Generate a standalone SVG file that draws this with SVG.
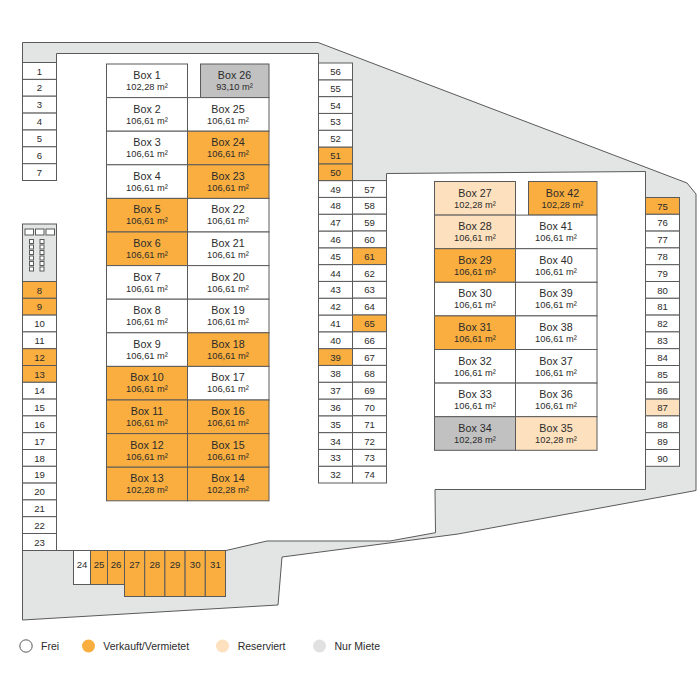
<svg xmlns="http://www.w3.org/2000/svg" width="700" height="700" viewBox="0 0 700 700">
<style>
text{font-family:"Liberation Sans",Arial,sans-serif;fill:#2b2b2b;text-anchor:middle}
.n{font-size:9.6px}
.t{font-size:10.7px}
.a{font-size:9.3px}
.l{font-size:10.5px;text-anchor:start}
rect{stroke:#5a5a5a;stroke-width:1}
.w{fill:#fff}.o{fill:#f9ae3f}.p{fill:#fde0bd}.g{fill:#c1c1c1}
</style>
<g id="site"><path d="M22.5 62.5V42.5H318L687 183L696 194V490.5L458 534L282 557L278 605L22.5 620V550.5H226L267 541H390L435.5 532.7L435 489.5H645.5V171.5L386.5 173.5V181H318.5V53.5H56.5V62.5Z" fill="#e3e4e4" stroke="#5a5a5a" stroke-width="1"/></g>
<g id="technik"><rect x="22.5" y="224" width="34" height="57.5" fill="#e3e4e4"/>
<g fill="#fff"><rect x="25" y="229" width="8.5" height="6"/><rect x="35.5" y="229" width="8.5" height="6"/><rect x="46" y="229" width="8.5" height="6"/>
<rect x="29.5" y="239.5" width="4" height="4"/><rect x="29.5" y="245" width="4" height="4"/><rect x="29.5" y="250.5" width="4" height="4"/><rect x="29.5" y="256" width="4" height="4"/><rect x="29.5" y="261.5" width="4" height="4"/><rect x="29.5" y="267" width="4" height="4"/>
<rect x="40" y="239.5" width="4" height="4"/><rect x="40" y="245" width="4" height="4"/><rect x="40" y="250.5" width="4" height="4"/><rect x="40" y="256" width="4" height="4"/><rect x="40" y="261.5" width="4" height="4"/><rect x="40" y="267" width="4" height="4"/></g></g>
<g id="parking-left">
<g id="p1"><rect class="w" x="22.5" y="62.5" width="34" height="16.9"/><text class="n" x="39.5" y="74.5">1</text></g>
<g id="p2"><rect class="w" x="22.5" y="79.4" width="34" height="16.8"/><text class="n" x="39.5" y="91.4">2</text></g>
<g id="p3"><rect class="w" x="22.5" y="96.2" width="34" height="16.9"/><text class="n" x="39.5" y="108.2">3</text></g>
<g id="p4"><rect class="w" x="22.5" y="113.1" width="34" height="16.9"/><text class="n" x="39.5" y="125.1">4</text></g>
<g id="p5"><rect class="w" x="22.5" y="130" width="34" height="16.8"/><text class="n" x="39.5" y="142">5</text></g>
<g id="p6"><rect class="w" x="22.5" y="146.8" width="34" height="16.9"/><text class="n" x="39.5" y="158.8">6</text></g>
<g id="p7"><rect class="w" x="22.5" y="163.7" width="34" height="16.8"/><text class="n" x="39.5" y="175.7">7</text></g>
<g id="p8"><rect class="o" x="22.5" y="281.5" width="34" height="16.8"/><text class="n" x="39.5" y="293.5">8</text></g>
<g id="p9"><rect class="o" x="22.5" y="298.3" width="34" height="16.8"/><text class="n" x="39.5" y="310.3">9</text></g>
<g id="p10"><rect class="w" x="22.5" y="315.1" width="34" height="16.8"/><text class="n" x="39.5" y="327.1">10</text></g>
<g id="p11"><rect class="w" x="22.5" y="331.9" width="34" height="16.8"/><text class="n" x="39.5" y="343.9">11</text></g>
<g id="p12"><rect class="o" x="22.5" y="348.7" width="34" height="16.8"/><text class="n" x="39.5" y="360.7">12</text></g>
<g id="p13"><rect class="o" x="22.5" y="365.5" width="34" height="16.8"/><text class="n" x="39.5" y="377.5">13</text></g>
<g id="p14"><rect class="w" x="22.5" y="382.3" width="34" height="16.8"/><text class="n" x="39.5" y="394.3">14</text></g>
<g id="p15"><rect class="w" x="22.5" y="399.1" width="34" height="16.8"/><text class="n" x="39.5" y="411.1">15</text></g>
<g id="p16"><rect class="w" x="22.5" y="415.9" width="34" height="16.8"/><text class="n" x="39.5" y="427.9">16</text></g>
<g id="p17"><rect class="w" x="22.5" y="432.7" width="34" height="16.8"/><text class="n" x="39.5" y="444.7">17</text></g>
<g id="p18"><rect class="w" x="22.5" y="449.5" width="34" height="16.8"/><text class="n" x="39.5" y="461.5">18</text></g>
<g id="p19"><rect class="w" x="22.5" y="466.3" width="34" height="16.8"/><text class="n" x="39.5" y="478.3">19</text></g>
<g id="p20"><rect class="w" x="22.5" y="483.1" width="34" height="16.8"/><text class="n" x="39.5" y="495.1">20</text></g>
<g id="p21"><rect class="w" x="22.5" y="499.9" width="34" height="16.8"/><text class="n" x="39.5" y="511.9">21</text></g>
<g id="p22"><rect class="w" x="22.5" y="516.7" width="34" height="16.8"/><text class="n" x="39.5" y="528.7">22</text></g>
<g id="p23"><rect class="w" x="22.5" y="533.5" width="34" height="17"/><text class="n" x="39.5" y="545.5">23</text></g>
</g>
<g id="parking-bottom">
<g id="p24"><rect class="w" x="73.5" y="550.5" width="17" height="34"/><text class="n" x="82" y="567.5">24</text></g>
<g id="p25"><rect class="o" x="90.5" y="550.5" width="17" height="34"/><text class="n" x="99" y="567.5">25</text></g>
<g id="p26"><rect class="o" x="107.5" y="550.5" width="17" height="34"/><text class="n" x="116" y="567.5">26</text></g>
<g id="p27"><rect class="o" x="124.5" y="550.5" width="20.2" height="46"/><text class="n" x="134.6" y="567.5">27</text></g>
<g id="p28"><rect class="o" x="144.7" y="550.5" width="20.2" height="46"/><text class="n" x="154.8" y="567.5">28</text></g>
<g id="p29"><rect class="o" x="164.9" y="550.5" width="20.2" height="46"/><text class="n" x="175" y="567.5">29</text></g>
<g id="p30"><rect class="o" x="185.1" y="550.5" width="20.2" height="46"/><text class="n" x="195.2" y="567.5">30</text></g>
<g id="p31"><rect class="o" x="205.3" y="550.5" width="20.2" height="46"/><text class="n" x="215.4" y="567.5">31</text></g>
</g>
<g id="parking-middle">
<g id="p32"><rect class="w" x="318.5" y="466.2" width="34" height="16.8"/><text class="n" x="335.5" y="478.2">32</text></g>
<g id="p33"><rect class="w" x="318.5" y="449.4" width="34" height="16.8"/><text class="n" x="335.5" y="461.4">33</text></g>
<g id="p34"><rect class="w" x="318.5" y="432.6" width="34" height="16.8"/><text class="n" x="335.5" y="444.6">34</text></g>
<g id="p35"><rect class="w" x="318.5" y="415.8" width="34" height="16.8"/><text class="n" x="335.5" y="427.8">35</text></g>
<g id="p36"><rect class="w" x="318.5" y="399" width="34" height="16.8"/><text class="n" x="335.5" y="411">36</text></g>
<g id="p37"><rect class="w" x="318.5" y="382.2" width="34" height="16.8"/><text class="n" x="335.5" y="394.2">37</text></g>
<g id="p38"><rect class="w" x="318.5" y="365.4" width="34" height="16.8"/><text class="n" x="335.5" y="377.4">38</text></g>
<g id="p39"><rect class="o" x="318.5" y="348.6" width="34" height="16.8"/><text class="n" x="335.5" y="360.6">39</text></g>
<g id="p40"><rect class="w" x="318.5" y="331.8" width="34" height="16.8"/><text class="n" x="335.5" y="343.8">40</text></g>
<g id="p41"><rect class="w" x="318.5" y="315" width="34" height="16.8"/><text class="n" x="335.5" y="327">41</text></g>
<g id="p42"><rect class="w" x="318.5" y="298.2" width="34" height="16.8"/><text class="n" x="335.5" y="310.2">42</text></g>
<g id="p43"><rect class="w" x="318.5" y="281.4" width="34" height="16.8"/><text class="n" x="335.5" y="293.4">43</text></g>
<g id="p44"><rect class="w" x="318.5" y="264.6" width="34" height="16.8"/><text class="n" x="335.5" y="276.6">44</text></g>
<g id="p45"><rect class="w" x="318.5" y="247.8" width="34" height="16.8"/><text class="n" x="335.5" y="259.8">45</text></g>
<g id="p46"><rect class="w" x="318.5" y="231" width="34" height="16.8"/><text class="n" x="335.5" y="243">46</text></g>
<g id="p47"><rect class="w" x="318.5" y="214.2" width="34" height="16.8"/><text class="n" x="335.5" y="226.2">47</text></g>
<g id="p48"><rect class="w" x="318.5" y="197.4" width="34" height="16.8"/><text class="n" x="335.5" y="209.4">48</text></g>
<g id="p49"><rect class="w" x="318.5" y="180.6" width="34" height="16.8"/><text class="n" x="335.5" y="192.6">49</text></g>
<g id="p50"><rect class="o" x="318.5" y="163.8" width="34" height="16.8"/><text class="n" x="335.5" y="175.8">50</text></g>
<g id="p51"><rect class="o" x="318.5" y="147" width="34" height="16.8"/><text class="n" x="335.5" y="159">51</text></g>
<g id="p52"><rect class="w" x="318.5" y="130.2" width="34" height="16.8"/><text class="n" x="335.5" y="142.2">52</text></g>
<g id="p53"><rect class="w" x="318.5" y="113.4" width="34" height="16.8"/><text class="n" x="335.5" y="125.4">53</text></g>
<g id="p54"><rect class="w" x="318.5" y="96.6" width="34" height="16.8"/><text class="n" x="335.5" y="108.6">54</text></g>
<g id="p55"><rect class="w" x="318.5" y="79.8" width="34" height="16.8"/><text class="n" x="335.5" y="91.8">55</text></g>
<g id="p56"><rect class="w" x="318.5" y="63" width="34" height="16.8"/><text class="n" x="335.5" y="75">56</text></g>
<g id="p57"><rect class="w" x="352.5" y="180.6" width="34" height="16.8"/><text class="n" x="369.5" y="192.6">57</text></g>
<g id="p58"><rect class="w" x="352.5" y="197.4" width="34" height="16.8"/><text class="n" x="369.5" y="209.4">58</text></g>
<g id="p59"><rect class="w" x="352.5" y="214.2" width="34" height="16.8"/><text class="n" x="369.5" y="226.2">59</text></g>
<g id="p60"><rect class="w" x="352.5" y="231" width="34" height="16.8"/><text class="n" x="369.5" y="243">60</text></g>
<g id="p61"><rect class="o" x="352.5" y="247.8" width="34" height="16.8"/><text class="n" x="369.5" y="259.8">61</text></g>
<g id="p62"><rect class="w" x="352.5" y="264.6" width="34" height="16.8"/><text class="n" x="369.5" y="276.6">62</text></g>
<g id="p63"><rect class="w" x="352.5" y="281.4" width="34" height="16.8"/><text class="n" x="369.5" y="293.4">63</text></g>
<g id="p64"><rect class="w" x="352.5" y="298.2" width="34" height="16.8"/><text class="n" x="369.5" y="310.2">64</text></g>
<g id="p65"><rect class="o" x="352.5" y="315" width="34" height="16.8"/><text class="n" x="369.5" y="327">65</text></g>
<g id="p66"><rect class="w" x="352.5" y="331.8" width="34" height="16.8"/><text class="n" x="369.5" y="343.8">66</text></g>
<g id="p67"><rect class="w" x="352.5" y="348.6" width="34" height="16.8"/><text class="n" x="369.5" y="360.6">67</text></g>
<g id="p68"><rect class="w" x="352.5" y="365.4" width="34" height="16.8"/><text class="n" x="369.5" y="377.4">68</text></g>
<g id="p69"><rect class="w" x="352.5" y="382.2" width="34" height="16.8"/><text class="n" x="369.5" y="394.2">69</text></g>
<g id="p70"><rect class="w" x="352.5" y="399" width="34" height="16.8"/><text class="n" x="369.5" y="411">70</text></g>
<g id="p71"><rect class="w" x="352.5" y="415.8" width="34" height="16.8"/><text class="n" x="369.5" y="427.8">71</text></g>
<g id="p72"><rect class="w" x="352.5" y="432.6" width="34" height="16.8"/><text class="n" x="369.5" y="444.6">72</text></g>
<g id="p73"><rect class="w" x="352.5" y="449.4" width="34" height="16.8"/><text class="n" x="369.5" y="461.4">73</text></g>
<g id="p74"><rect class="w" x="352.5" y="466.2" width="34" height="16.8"/><text class="n" x="369.5" y="478.2">74</text></g>
</g>
<g id="parking-right">
<g id="p75"><rect class="o" x="645.5" y="197.5" width="34" height="16.8"/><text class="n" x="662.5" y="209.5">75</text></g>
<g id="p76"><rect class="w" x="645.5" y="214.3" width="34" height="16.8"/><text class="n" x="662.5" y="226.3">76</text></g>
<g id="p77"><rect class="w" x="645.5" y="231.1" width="34" height="16.8"/><text class="n" x="662.5" y="243.1">77</text></g>
<g id="p78"><rect class="w" x="645.5" y="247.9" width="34" height="16.8"/><text class="n" x="662.5" y="259.9">78</text></g>
<g id="p79"><rect class="w" x="645.5" y="264.7" width="34" height="16.8"/><text class="n" x="662.5" y="276.7">79</text></g>
<g id="p80"><rect class="w" x="645.5" y="281.5" width="34" height="16.8"/><text class="n" x="662.5" y="293.5">80</text></g>
<g id="p81"><rect class="w" x="645.5" y="298.3" width="34" height="16.8"/><text class="n" x="662.5" y="310.3">81</text></g>
<g id="p82"><rect class="w" x="645.5" y="315.1" width="34" height="16.8"/><text class="n" x="662.5" y="327.1">82</text></g>
<g id="p83"><rect class="w" x="645.5" y="331.9" width="34" height="16.8"/><text class="n" x="662.5" y="343.9">83</text></g>
<g id="p84"><rect class="w" x="645.5" y="348.7" width="34" height="16.8"/><text class="n" x="662.5" y="360.7">84</text></g>
<g id="p85"><rect class="w" x="645.5" y="365.5" width="34" height="16.8"/><text class="n" x="662.5" y="377.5">85</text></g>
<g id="p86"><rect class="w" x="645.5" y="382.3" width="34" height="16.8"/><text class="n" x="662.5" y="394.3">86</text></g>
<g id="p87"><rect class="p" x="645.5" y="399.1" width="34" height="16.8"/><text class="n" x="662.5" y="411.1">87</text></g>
<g id="p88"><rect class="w" x="645.5" y="415.9" width="34" height="16.8"/><text class="n" x="662.5" y="427.9">88</text></g>
<g id="p89"><rect class="w" x="645.5" y="432.7" width="34" height="16.8"/><text class="n" x="662.5" y="444.7">89</text></g>
<g id="p90"><rect class="w" x="645.5" y="449.5" width="34" height="16.8"/><text class="n" x="662.5" y="461.5">90</text></g>
</g>
<g id="boxes-left">
<g id="box1"><rect class="w" x="106.5" y="64" width="81" height="33.6"/><text class="t" x="147" y="79">Box 1</text><text class="a" x="147" y="90">102,28 m²</text></g>
<g id="box2"><rect class="w" x="106.5" y="97.6" width="81" height="33.6"/><text class="t" x="147" y="112.6">Box 2</text><text class="a" x="147" y="123.6">106,61 m²</text></g>
<g id="box3"><rect class="w" x="106.5" y="131.2" width="81" height="33.6"/><text class="t" x="147" y="146.2">Box 3</text><text class="a" x="147" y="157.2">106,61 m²</text></g>
<g id="box4"><rect class="w" x="106.5" y="164.8" width="81" height="33.6"/><text class="t" x="147" y="179.8">Box 4</text><text class="a" x="147" y="190.8">106,61 m²</text></g>
<g id="box5"><rect class="o" x="106.5" y="198.4" width="81" height="33.6"/><text class="t" x="147" y="213.4">Box 5</text><text class="a" x="147" y="224.4">106,61 m²</text></g>
<g id="box6"><rect class="o" x="106.5" y="232" width="81" height="33.6"/><text class="t" x="147" y="247">Box 6</text><text class="a" x="147" y="258">106,61 m²</text></g>
<g id="box7"><rect class="w" x="106.5" y="265.6" width="81" height="33.6"/><text class="t" x="147" y="280.6">Box 7</text><text class="a" x="147" y="291.6">106,61 m²</text></g>
<g id="box8"><rect class="w" x="106.5" y="299.2" width="81" height="33.6"/><text class="t" x="147" y="314.2">Box 8</text><text class="a" x="147" y="325.2">106,61 m²</text></g>
<g id="box9"><rect class="w" x="106.5" y="332.8" width="81" height="33.6"/><text class="t" x="147" y="347.8">Box 9</text><text class="a" x="147" y="358.8">106,61 m²</text></g>
<g id="box10"><rect class="o" x="106.5" y="366.4" width="81" height="33.6"/><text class="t" x="147" y="381.4">Box 10</text><text class="a" x="147" y="392.4">106,61 m²</text></g>
<g id="box11"><rect class="o" x="106.5" y="400" width="81" height="33.6"/><text class="t" x="147" y="415">Box 11</text><text class="a" x="147" y="426">106,61 m²</text></g>
<g id="box12"><rect class="o" x="106.5" y="433.6" width="81" height="33.6"/><text class="t" x="147" y="448.6">Box 12</text><text class="a" x="147" y="459.6">106,61 m²</text></g>
<g id="box13"><rect class="o" x="106.5" y="467.2" width="81" height="33.6"/><text class="t" x="147" y="482.2">Box 13</text><text class="a" x="147" y="493.2">102,28 m²</text></g>
<g id="box26"><rect class="g" x="200.5" y="64" width="68.5" height="33.6"/><text class="t" x="234.5" y="79">Box 26</text><text class="a" x="234.5" y="90">93,10 m²</text></g>
<g id="box25"><rect class="w" x="187.5" y="97.6" width="81.5" height="33.6"/><text class="t" x="228" y="112.6">Box 25</text><text class="a" x="228" y="123.6">106,61 m²</text></g>
<g id="box24"><rect class="o" x="187.5" y="131.2" width="81.5" height="33.6"/><text class="t" x="228" y="146.2">Box 24</text><text class="a" x="228" y="157.2">106,61 m²</text></g>
<g id="box23"><rect class="o" x="187.5" y="164.8" width="81.5" height="33.6"/><text class="t" x="228" y="179.8">Box 23</text><text class="a" x="228" y="190.8">106,61 m²</text></g>
<g id="box22"><rect class="w" x="187.5" y="198.4" width="81.5" height="33.6"/><text class="t" x="228" y="213.4">Box 22</text><text class="a" x="228" y="224.4">106,61 m²</text></g>
<g id="box21"><rect class="w" x="187.5" y="232" width="81.5" height="33.6"/><text class="t" x="228" y="247">Box 21</text><text class="a" x="228" y="258">106,61 m²</text></g>
<g id="box20"><rect class="w" x="187.5" y="265.6" width="81.5" height="33.6"/><text class="t" x="228" y="280.6">Box 20</text><text class="a" x="228" y="291.6">106,61 m²</text></g>
<g id="box19"><rect class="w" x="187.5" y="299.2" width="81.5" height="33.6"/><text class="t" x="228" y="314.2">Box 19</text><text class="a" x="228" y="325.2">106,61 m²</text></g>
<g id="box18"><rect class="o" x="187.5" y="332.8" width="81.5" height="33.6"/><text class="t" x="228" y="347.8">Box 18</text><text class="a" x="228" y="358.8">106,61 m²</text></g>
<g id="box17"><rect class="w" x="187.5" y="366.4" width="81.5" height="33.6"/><text class="t" x="228" y="381.4">Box 17</text><text class="a" x="228" y="392.4">106,61 m²</text></g>
<g id="box16"><rect class="o" x="187.5" y="400" width="81.5" height="33.6"/><text class="t" x="228" y="415">Box 16</text><text class="a" x="228" y="426">106,61 m²</text></g>
<g id="box15"><rect class="o" x="187.5" y="433.6" width="81.5" height="33.6"/><text class="t" x="228" y="448.6">Box 15</text><text class="a" x="228" y="459.6">106,61 m²</text></g>
<g id="box14"><rect class="o" x="187.5" y="467.2" width="81.5" height="33.6"/><text class="t" x="228" y="482.2">Box 14</text><text class="a" x="228" y="493.2">102,28 m²</text></g>
</g>
<g id="boxes-right">
<g id="box27"><rect class="p" x="434.5" y="181.5" width="81" height="33.6"/><text class="t" x="475" y="196.5">Box 27</text><text class="a" x="475" y="207.5">102,28 m²</text></g>
<g id="box28"><rect class="p" x="434.5" y="215.1" width="81" height="33.6"/><text class="t" x="475" y="230.1">Box 28</text><text class="a" x="475" y="241.1">106,61 m²</text></g>
<g id="box29"><rect class="o" x="434.5" y="248.7" width="81" height="33.6"/><text class="t" x="475" y="263.7">Box 29</text><text class="a" x="475" y="274.7">106,61 m²</text></g>
<g id="box30"><rect class="w" x="434.5" y="282.3" width="81" height="33.6"/><text class="t" x="475" y="297.3">Box 30</text><text class="a" x="475" y="308.3">106,61 m²</text></g>
<g id="box31"><rect class="o" x="434.5" y="315.9" width="81" height="33.6"/><text class="t" x="475" y="330.9">Box 31</text><text class="a" x="475" y="341.9">106,61 m²</text></g>
<g id="box32"><rect class="w" x="434.5" y="349.5" width="81" height="33.6"/><text class="t" x="475" y="364.5">Box 32</text><text class="a" x="475" y="375.5">106,61 m²</text></g>
<g id="box33"><rect class="w" x="434.5" y="383.1" width="81" height="33.6"/><text class="t" x="475" y="398.1">Box 33</text><text class="a" x="475" y="409.1">106,61 m²</text></g>
<g id="box34"><rect class="g" x="434.5" y="416.7" width="81" height="33.6"/><text class="t" x="475" y="431.7">Box 34</text><text class="a" x="475" y="442.7">102,28 m²</text></g>
<g id="box42"><rect class="o" x="528.5" y="181.5" width="68.5" height="33.6"/><text class="t" x="562.5" y="196.5">Box 42</text><text class="a" x="562.5" y="207.5">102,28 m²</text></g>
<g id="box41"><rect class="w" x="515.5" y="215.1" width="81.5" height="33.6"/><text class="t" x="556" y="230.1">Box 41</text><text class="a" x="556" y="241.1">106,61 m²</text></g>
<g id="box40"><rect class="w" x="515.5" y="248.7" width="81.5" height="33.6"/><text class="t" x="556" y="263.7">Box 40</text><text class="a" x="556" y="274.7">106,61 m²</text></g>
<g id="box39"><rect class="w" x="515.5" y="282.3" width="81.5" height="33.6"/><text class="t" x="556" y="297.3">Box 39</text><text class="a" x="556" y="308.3">106,61 m²</text></g>
<g id="box38"><rect class="w" x="515.5" y="315.9" width="81.5" height="33.6"/><text class="t" x="556" y="330.9">Box 38</text><text class="a" x="556" y="341.9">106,61 m²</text></g>
<g id="box37"><rect class="w" x="515.5" y="349.5" width="81.5" height="33.6"/><text class="t" x="556" y="364.5">Box 37</text><text class="a" x="556" y="375.5">106,61 m²</text></g>
<g id="box36"><rect class="w" x="515.5" y="383.1" width="81.5" height="33.6"/><text class="t" x="556" y="398.1">Box 36</text><text class="a" x="556" y="409.1">106,61 m²</text></g>
<g id="box35"><rect class="p" x="515.5" y="416.7" width="81.5" height="33.6"/><text class="t" x="556" y="431.7">Box 35</text><text class="a" x="556" y="442.7">102,28 m²</text></g>
</g>
<g id="legend">
<g id="legend-frei"><circle cx="26" cy="646" r="6.2" fill="#fff" stroke="#5a5a5a"/><text class="l" x="41" y="650">Frei</text></g>
<g id="legend-verkauft"><circle cx="88.5" cy="646" r="6.5" fill="#f9ae3f"/><text class="l" x="103.3" y="650">Verkauft/Vermietet</text></g>
<g id="legend-reserviert"><circle cx="222.5" cy="646" r="6.5" fill="#fde0bd"/><text class="l" x="237.7" y="650">Reserviert</text></g>
<g id="legend-miete"><circle cx="319.5" cy="646" r="6.5" fill="#e1e1e1"/><text class="l" x="334.5" y="650">Nur Miete</text></g>
</g>
</svg>
